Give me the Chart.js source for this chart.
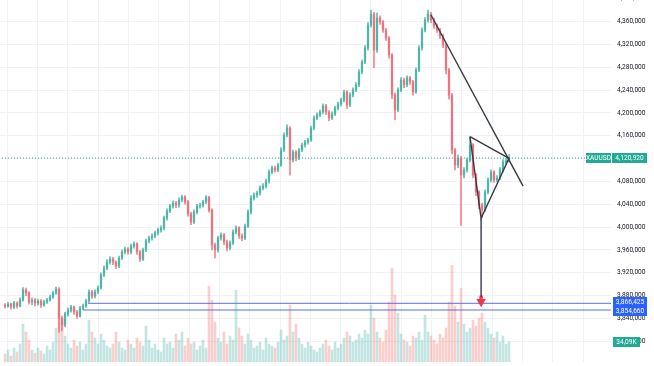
<!DOCTYPE html>
<html>
<head>
<meta charset="utf-8">
<script src="https://cdn.jsdelivr.net/npm/chart.js@4.4.1/dist/chart.umd.min.js"></script>
<style>
  html, body { margin: 0; padding: 0; background: #ffffff; }
  #wrap { position: relative; width: 654px; height: 366px; }
</style>
</head>
<body>
<div id="wrap"><canvas id="chart"></canvas></div>
<script>
// XAUUSD candles (price), one per bar slot
const opens = [3863.0,3861.6,3865.2,3859.9,3866.9,3861.6,3872.2,3889.7,3884.4,3868.7,
  3872.2,3866.9,3870.4,3863.4,3868.7,3872.2,3877.4,3884.4,3891.4,3840.6,
  3828.4,3847.6,3854.6,3859.9,3851.1,3844.1,3858.1,3861.6,3870.4,3886.2,
  3879.2,3886.2,3893.2,3916.0,3928.2,3938.7,3944.0,3938.7,3931.7,3945.7,
  3956.2,3961.5,3956.2,3966.8,3970.3,3956.2,3944.0,3959.7,3975.5,3980.8,
  3984.3,3989.5,3994.8,3998.3,4015.8,4028.1,4036.8,4042.1,4038.6,4047.3,
  4052.6,4043.8,4022.8,4008.8,4026.3,4036.8,4038.6,4043.8,4052.6,4029.8,
  3968.5,3959.7,3980.8,3986.0,3973.8,3963.3,3972.0,3991.3,3998.3,3984.3,
  3980.8,4001.8,4026.3,4050.8,4056.1,4059.6,4068.4,4071.9,4080.6,4096.4,
  4103.4,4099.9,4108.7,4134.9,4161.2,4173.5,4117.4,4131.4,4120.9,4134.9,
  4143.7,4148.9,4152.4,4173.5,4191.0,4196.2,4201.5,4212.0,4201.5,4191.0,
  4198.0,4208.5,4215.5,4222.5,4236.5,4213.8,4231.3,4240.0,4248.8,4271.6,
  4289.1,4313.6,4353.9,4373.2,4310.1,4366.2,4359.2,4345.1,4331.1,4301.4,
  4231.3,4205.0,4240.0,4257.6,4248.8,4261.1,4254.1,4236.5,4275.1,4313.6,
  4345.1,4362.7,4373.2,4362.7,4352.2,4345.1,4334.6,4318.9,4275.1,4231.3,
  4134.9,4108.7,4120.9,4091.1,4099.9,4117.4,4143.7,4091.1,4061.4,4038.6,
  4029.8,4061.4,4082.4,4096.4,4082.4,4085.9,4099.9,4113.9,4116.0];
const highs = [3866,3868,3867,3870,3869,3876,3894,3893,3887,3876,
  3875,3874,3873,3872,3875,3881,3888,3895,3894,3844,
  3851,3858,3863,3862,3854,3861,3865,3874,3890,3889,
  3890,3897,3920,3932,3943,3948,3947,3941,3949,3960,
  3965,3964,3970,3974,3973,3959,3963,3979,3984,3988,
  3993,3998,4002,4019,4032,4040,4046,4045,4051,4056,
  4055,4047,4026,4030,4040,4042,4047,4055,4054,4032,
  3972,3984,3990,3989,3977,3976,3995,4002,4001,3988,
  4005,4030,4055,4060,4063,4072,4076,4084,4100,4107,
  4107,4112,4139,4165,4179,4176,4135,4134,4138,4147,
  4152,4156,4177,4195,4200,4205,4216,4215,4204,4202,
  4212,4219,4226,4240,4239,4235,4244,4253,4276,4293,
  4318,4358,4380,4376,4375,4370,4362,4348,4334,4304,
  4235,4244,4262,4261,4265,4264,4257,4279,4318,4349,
  4367,4380,4376,4366,4356,4348,4338,4322,4278,4234,
  4138,4126,4124,4104,4121,4158,4146,4094,4064,4042,
  4065,4086,4100,4099,4090,4104,4118,4121,4127];
const lows = [3858,3859,3856,3857,3858,3860,3870,3880,3865,3864,
  3862,3863,3859,3861,3866,3870,3875,3882,3816,3818,
  3825,3844,3851,3847,3840,3842,3855,3859,3868,3875,
  3876,3883,3891,3913,3925,3935,3934,3927,3929,3943,
  3953,3952,3953,3963,3952,3940,3941,3957,3972,3977,
  3981,3986,3991,3995,4012,4025,4033,4034,4035,4044,
  4040,4019,4004,4006,4023,4033,4035,4041,4026,3960,
  3946,3956,3977,3969,3958,3960,3969,3988,3980,3976,
  3978,3999,4023,4047,4052,4056,4065,4068,4077,4093,
  4096,4097,4106,4132,4158,4091,4114,4116,4118,4132,
  4140,4145,4150,4170,4188,4193,4198,4197,4186,4188,
  4195,4205,4212,4219,4208,4211,4228,4237,4246,4268,
  4286,4310,4350,4279,4306,4355,4341,4327,4296,4225,
  4188,4202,4237,4244,4246,4250,4231,4234,4272,4310,
  4342,4359,4358,4348,4341,4330,4314,4268,4224,4128,
  4100,4104,4003,4086,4096,4114,4086,4055,4032,4016,
  4027,4058,4079,4078,4079,4083,4096,4110,4114];
const closes = [3861.6,3865.2,3859.9,3866.9,3861.6,3872.2,3889.7,3884.4,3868.7,3872.2,
  3866.9,3870.4,3863.4,3868.7,3872.2,3877.4,3884.4,3891.4,3840.6,3828.4,
  3847.6,3854.6,3859.9,3851.1,3844.1,3858.1,3861.6,3870.4,3886.2,3879.2,
  3886.2,3893.2,3916.0,3928.2,3938.7,3944.0,3938.7,3931.7,3945.7,3956.2,
  3961.5,3956.2,3966.8,3970.3,3956.2,3944.0,3959.7,3975.5,3980.8,3984.3,
  3989.5,3994.8,3998.3,4015.8,4028.1,4036.8,4042.1,4038.6,4047.3,4052.6,
  4043.8,4022.8,4008.8,4026.3,4036.8,4038.6,4043.8,4052.6,4029.8,3968.5,
  3959.7,3980.8,3986.0,3973.8,3963.3,3972.0,3991.3,3998.3,3984.3,3980.8,
  4001.8,4026.3,4050.8,4056.1,4059.6,4068.4,4071.9,4080.6,4096.4,4103.4,
  4099.9,4108.7,4134.9,4161.2,4173.5,4117.4,4131.4,4120.9,4134.9,4143.7,
  4148.9,4152.4,4173.5,4191.0,4196.2,4201.5,4212.0,4201.5,4191.0,4198.0,
  4208.5,4215.5,4222.5,4236.5,4213.8,4231.3,4240.0,4248.8,4271.6,4289.1,
  4313.6,4353.9,4373.2,4310.1,4366.2,4359.2,4345.1,4331.1,4301.4,4231.3,
  4205.0,4240.0,4257.6,4248.8,4261.1,4254.1,4236.5,4275.1,4313.6,4345.1,
  4362.7,4373.2,4362.7,4352.2,4345.1,4334.6,4318.9,4275.1,4231.3,4134.9,
  4108.7,4120.9,4091.1,4099.9,4117.4,4143.7,4091.1,4061.4,4038.6,4029.8,
  4061.4,4082.4,4096.4,4082.4,4085.9,4099.9,4113.9,4116.0,4120.92];
// volume in K
const volumes = [13.6,20.4,10.2,23.8,17,30.6,64.6,51,37.4,20.4,
  15.3,23.8,18.7,13.6,27.2,20.4,34,57.8,81.6,68,
  44.2,30.6,23.8,37.4,27.2,34,20.4,30.6,71.4,51,
  40.8,30.6,47.6,37.4,27.2,23.8,30.6,51,34,23.8,
  20.4,37.4,30.6,23.8,40.8,34,27.2,61.2,37.4,23.8,
  30.6,20.4,17,40.8,30.6,34,23.8,47.6,37.4,51,
  27.2,40.8,30.6,34,20.4,27.2,37.4,23.8,129.2,105.4,
  68,40.8,34,51,30.6,44.2,37.4,122.4,57.8,44.2,
  30.6,47.6,37.4,23.8,27.2,34,20.4,40.8,30.6,27.2,
  23.8,34,54.4,37.4,44.2,96.9,51,64.6,40.8,30.6,
  23.8,34,27.2,20.4,17,23.8,30.6,37.4,27.2,20.4,
  34,23.8,30.6,40.8,51,44.2,34,37.4,47.6,40.8,
  54.4,47.6,96.9,74.8,51,40.8,34,54.4,102,159.8,
  113.9,83.3,47.6,37.4,34,27.2,44.2,40.8,51,37.4,
  79.9,51,44.2,37.4,30.6,47.6,40.8,57.8,102,164.9,
  95.2,68,125.8,64.6,51,57.8,71.4,61.2,74.8,83.3,
  68,57.8,47.6,40.8,51,34,44.2,30.6,34.09];
const slots = opens.map((_, i) => i);

// price scale
const priceTicks = [3800,3840,3880,3920,3960,4000,4040,4080,4120,4160,4200,4240,4280,4320,4360,4400];
const lastPrice = 4120.92;
const symbol = 'XAUUSD';

// drawings
const trendLine = [[142, 4371.4], [172.7, 4071.8]];
const triangle = [[155, 4158.2], [168, 4120.4], [158.7, 4015.2], [155, 4158.2]];
const arrowLine = [[158.7, 4015.2], [158.7, 3878]];
const arrowHead = [158.7, 3869];
const levels = [3866.425, 3854.66];
const levelStarts = [27.7, 26];

const UP = '#4db6a6', DOWN = '#f0727e';
const upAt = i => closes[i] >= opens[i];

const fmtPrice = v => {
  const [a, b] = v.toFixed(3).split('.');
  return a.replace(/\B(?=(\d{3})+(?!\d))/g, ',') + ',' + b;
};

const pts = arr => arr.map(p => ({ x: p[0], y: p[1] }));
const lineDs = (data, color, extra) => Object.assign({
  type: 'line', data, borderColor: color, borderWidth: 1.4, pointRadius: 0,
  fill: false, tension: 0, yAxisID: 'y', order: 0
}, extra || {});

// price / volume tags on the right axis
const labelsPlugin = {
  id: 'axisLabels',
  afterDraw(chart) {
    const { ctx, chartArea } = chart;
    const y = chart.scales.y, yv = chart.scales.vol;
    ctx.save();
    ctx.font = '6.6px Roboto';
    ctx.textBaseline = 'middle';
    ctx.textAlign = 'center';
    const box = (x, w, cy, fill, text) => {
      ctx.fillStyle = fill;
      ctx.fillRect(x, Math.round(cy) - 5, w, 10);
      ctx.fillStyle = '#ffffff';
      ctx.fillText(text, x + w / 2, Math.round(cy) + 0.5);
    };
    const py = y.getPixelForValue(lastPrice);
    box(chartArea.right - 25, 25, py, '#22ab94', symbol);
    box(chartArea.right + 1, 35, py, '#22ab94', fmtPrice(lastPrice));
    box(chartArea.right + 2, 34, y.getPixelForValue(levels[0]) - 1, '#2962ff', fmtPrice(levels[0]));
    box(chartArea.right + 2, 34, y.getPixelForValue(levels[1]) + 1, '#2962ff', fmtPrice(levels[1]));
    const lastVol = volumes[volumes.length - 1];
    box(chartArea.right + 2, 27, yv.getPixelForValue(lastVol), '#22ab94', lastVol.toFixed(2).replace('.', ',') + 'K');
    ctx.restore();
  }
};

new Chart(document.getElementById('chart'), {
  type: 'bar',
  data: {
    datasets: [
      lineDs(pts(trendLine), '#363a45'),
      lineDs(pts(triangle), '#363a45'),
      lineDs(pts(arrowLine), '#363a45'),
      lineDs([{ x: arrowHead[0], y: arrowHead[1] }], '#f23645', {
        pointRadius: 5.5, pointStyle: 'triangle', rotation: 180,
        pointBackgroundColor: '#f23645', pointBorderWidth: 0, showLine: false
      }),
      lineDs([{ x: arrowHead[0], y: arrowHead[1] + 8 }], '#f23645', {
        pointRadius: 2.4, pointStyle: 'rect',
        pointBackgroundColor: '#f23645', pointBorderWidth: 0, showLine: false
      }),
      lineDs([{ x: levelStarts[0], y: levels[0] }, { x: 202, y: levels[0] }], '#5b6ee1', { borderWidth: 1 }),
      lineDs([{ x: levelStarts[1], y: levels[1] }, { x: 202, y: levels[1] }], '#5b6ee1', { borderWidth: 1 }),
      lineDs([{ x: -2, y: lastPrice }, { x: 193.7, y: lastPrice }], '#26a69a', { borderWidth: 1, borderDash: [1, 2], order: 5 }),
      {
        label: 'body', data: slots.map(i => ({ x: i, y: [opens[i], closes[i]] })),
        backgroundColor: c => upAt(c.dataIndex) ? UP : DOWN,
        barThickness: 1.6, minBarLength: 1, grouped: false, yAxisID: 'y', order: 1
      },
      {
        label: 'wick', data: slots.map(i => ({ x: i, y: [lows[i], highs[i]] })),
        backgroundColor: c => upAt(c.dataIndex) ? UP : DOWN,
        barThickness: 0.8, grouped: false, yAxisID: 'y', order: 2
      },
      {
        label: 'volume', data: slots.map(i => ({ x: i, y: volumes[i] })),
        backgroundColor: c => upAt(c.dataIndex) ? 'rgba(38,166,154,0.28)' : 'rgba(239,83,80,0.28)',
        barThickness: 2, grouped: false, yAxisID: 'vol', order: 3
      }
    ]
  },
  options: {
    responsive: true,
    maintainAspectRatio: false,
    animation: false,
    layout: { autoPadding: false, padding: { top: 0, left: 0, right: 0, bottom: 4 } },
    plugins: { legend: { display: false }, tooltip: { enabled: false } },
    scales: {
      x: {
        type: 'linear', min: -1.667, max: 202, offset: false,
        grid: { color: '#f0f2f6', drawTicks: false, offset: false },
        border: { display: false },
        ticks: { display: false },
        afterBuildTicks: s => {
          const t = [];
          for (let k = 0; k < 20; k++) t.push({ value: 0.77 + 10.1 * k });
          s.ticks = t;
        }
      },
      y: {
        position: 'right', min: 3763.6, max: 4397.7,
        grid: { color: '#f0f2f6', drawTicks: false },
        border: { display: false },
        ticks: {
          color: '#131722', font: { family: 'Roboto', size: 6.6 }, padding: 6,
          callback: v => fmtPrice(v)
        },
        afterBuildTicks: s => { s.ticks = priceTicks.map(v => ({ value: v })); },
        afterFit: s => { s.width = 43; s.paddingTop = 0; s.paddingBottom = 0; }
      },
      vol: { display: false, min: 0, max: 617 }
    }
  },
  plugins: [labelsPlugin]
});
</script>
</body>
</html>
